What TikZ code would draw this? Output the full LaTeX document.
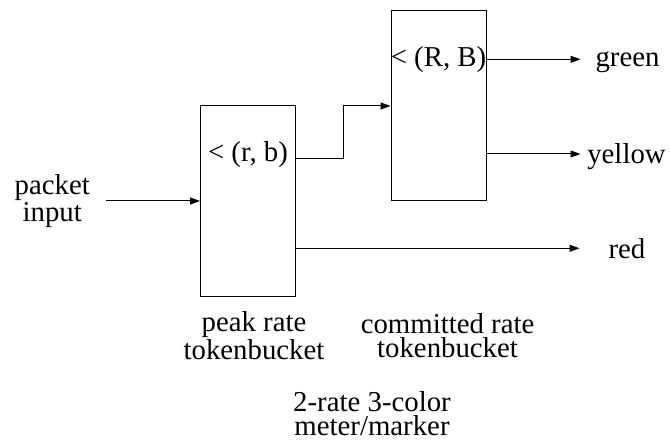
\documentclass[tikz,border=0pt]{standalone}
\usepackage{fontspec}
\setmainfont{Liberation Serif}
\usetikzlibrary{arrows.meta,positioning,calc}

\begin{document}
\begin{tikzpicture}[
    x=1pt, y=1pt,
    bucket/.style={rectangle, draw, line width=1pt, minimum width=95pt, minimum height=190pt, inner sep=0pt},
    lbl/.style={inner sep=0pt, align=center, font=\fontsize{28.8}{23.5}\selectfont},
    flow/.style={-{Triangle[length=10pt, width=7pt]}, line width=1pt},
    node distance=36pt
]
    \useasboundingbox (0,0) rectangle (670,440);
    % token buckets
    \node[bucket] (b1) at (248,239) {};
    \node[bucket, right=94.5pt of b1, yshift=95pt] (b2) {};
    \node[lbl, anchor=base] (rb) at ([yshift=-56pt]b1.north) {< (r, b)};
    \node[lbl, anchor=base] (RB) at ([yshift=-56pt]b2.north) {< (R, B)};
    \node[lbl, left=110pt of b1] (in) {packet\\input};
    % arrow ends
    \coordinate (gtip) at ([xshift=94pt, yshift=46.7pt]b2.east);
    \coordinate (ytip) at ([xshift=94pt, yshift=-48pt]b2.east);
    \coordinate (rtip) at ([xshift=283.5pt, yshift=-47.3pt]b1.east);
    \node[lbl, anchor=base] (green) at ([xshift=47pt, yshift=-7.7pt]gtip) {green};
    \node[lbl, anchor=base] (yellow) at ([xshift=46pt, yshift=-9.5pt]ytip) {yellow};
    \node[lbl, anchor=base] (red) at ([xshift=47.5pt, yshift=-9.7pt]rtip) {red};
    \draw[flow, shorten <=16pt] (in.east) -- (b1.west);
    \draw[flow] ([yshift=42pt]b1.east) -- ++(47.2pt,0) |- (b2.west);
    \draw[flow] ([yshift=46.7pt]b2.east) -- (gtip);
    \draw[flow] ([yshift=-48pt]b2.east) -- (ytip);
    \draw[flow] ([yshift=-47.3pt]b1.east) -- (rtip);
    % captions
    \node[lbl, anchor=base] (peak) at ([xshift=6pt, yshift=-62.5pt]b1.south) {peak rate\\tokenbucket};
    \node[lbl, right=36pt of peak] (commit) {committed rate\\tokenbucket};
    \node[lbl, anchor=base] (meter) at (372,5) {2-rate 3-color\\meter/marker};
\end{tikzpicture}
\end{document}
